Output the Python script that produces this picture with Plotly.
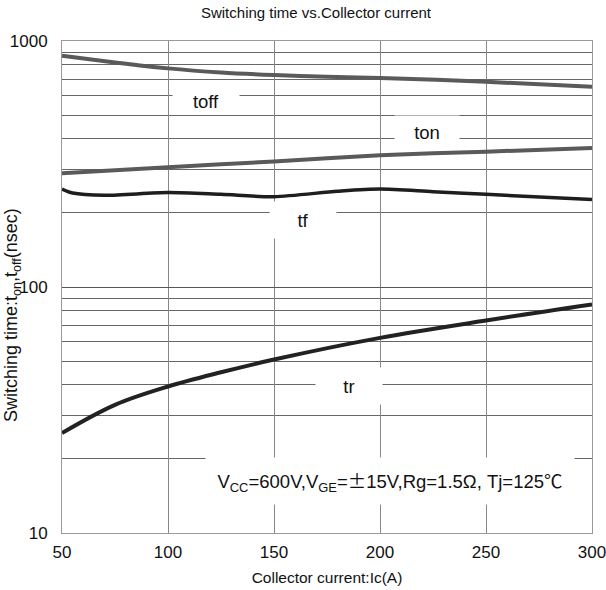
import math
import plotly.graph_objects as go

# ---- data ----
ic_toff = [50, 75, 100, 125, 150, 175, 200, 250, 300]
toff = [871, 818, 774, 745, 727, 715, 707, 683, 651]

ic_ton = [50, 100, 150, 200, 250, 300]
ton = [290, 307, 324, 343, 355, 367]

ic_tf = [50, 55, 70, 100, 125, 150, 180, 200, 225, 250, 300]
tf = [250, 241, 236, 242, 238, 233, 245, 250, 244, 238, 227]

ic_tr = [50, 75, 100, 125, 150, 200, 250, 300]
tr = [25.5, 33.2, 39.4, 45.0, 50.7, 62.1, 73.1, 84.9]

x_ticks = [50, 100, 150, 200, 250, 300]
y_tickvals = [10, 100, 1000]
y_ticktext = ["10", "100", "1000"]

FONT = "Liberation Sans, Arial, sans-serif"
W, H = 606, 590
ML, MR, MT, MB = 62, 14, 41, 57
PW = W - ML - MR
PH = H - MT - MB

fig = go.Figure()
fig.add_trace(go.Scatter(x=ic_toff, y=toff, mode="lines",
                         line=dict(color="#5a5a5a", width=4, shape="spline", smoothing=0.8)))
fig.add_trace(go.Scatter(x=ic_ton, y=ton, mode="lines",
                         line=dict(color="#5a5a5a", width=4, shape="spline", smoothing=0.8)))
fig.add_trace(go.Scatter(x=ic_tf, y=tf, mode="lines",
                         line=dict(color="#1e1e1e", width=3.5, shape="spline", smoothing=0.8)))
fig.add_trace(go.Scatter(x=ic_tr, y=tr, mode="lines",
                         line=dict(color="#222222", width=4, shape="spline", smoothing=1.0)))


def label(text, x, y, w, h, size=18.5):
    fig.add_annotation(x=x, y=math.log10(y), xref="x", yref="y", text=text, showarrow=False,
                       font=dict(family=FONT, size=size, color="#111"),
                       bgcolor="white", width=w, height=h, align="center", valign="middle")


label("toff", 117.8, 571, 64, 22)
label("ton", 222.2, 426, 62, 30)
label("tf", 163.7, 186.6, 64, 34)
label("tr", 185.4, 39.7, 64, 34)
label("V<sub>CC</sub>=600V,V<sub>GE</sub>="
      "<span style=\"font-family:'Noto Sans CJK JP'\">±</span>15V,Rg=1.5Ω, Tj=125"
      "<span style=\"font-family:'Noto Sans CJK JP'\">℃</span>",
      204.7, 16.3, 366, 44, size=18.5)

# y-axis title placed at its reference spot
fig.add_annotation(x=(12 - ML) / PW, y=(H - MB - 315) / PH, xref="paper", yref="paper",
                   text="Switching time:t<sub>on</sub>,t<sub>off</sub>(nsec)",
                   textangle=-90, showarrow=False, xanchor="center", yanchor="middle",
                   font=dict(family=FONT, size=18, color="#111"))

fig.update_layout(
    width=W, height=H,
    margin=dict(l=ML, r=MR, t=MT, b=MB, autoexpand=False),
    paper_bgcolor="white", plot_bgcolor="white",
    showlegend=False,
    title=dict(text="Switching time vs.Collector current", x=316 / W, xanchor="center",
               y=1 - 13 / H, yanchor="middle", font=dict(family=FONT, size=15, color="#111")),
    xaxis=dict(range=[50, 300], tickvals=x_ticks, showgrid=True, gridcolor="#888", gridwidth=1,
               showline=True, linecolor="#999", linewidth=1, mirror=True, zeroline=False,
               ticks="", ticklabelstandoff=4, automargin=False, ticklabeloverflow="allow",
               tickfont=dict(family=FONT, size=17, color="#111"),
               title=dict(text="Collector current:Ic(A)", standoff=10,
                          font=dict(family=FONT, size=15.5, color="#111"))),
    yaxis=dict(type="log", range=[1, 3], tickvals=y_tickvals, ticktext=y_ticktext,
               showgrid=True, gridcolor="#555", gridwidth=1, automargin=False,
               minor=dict(dtick="D1", showgrid=True, gridcolor="#666", gridwidth=1, ticks=""),
               showline=True, linecolor="#999", linewidth=1, mirror=True, zeroline=False,
               ticks="", ticklabelstandoff=10, ticklabeloverflow="allow",
               tickfont=dict(family=FONT, size=17, color="#111")),
)

fig.write_html("out.html", config={"displayModeBar": False},
               post_script="document.body.style.margin='0';")
